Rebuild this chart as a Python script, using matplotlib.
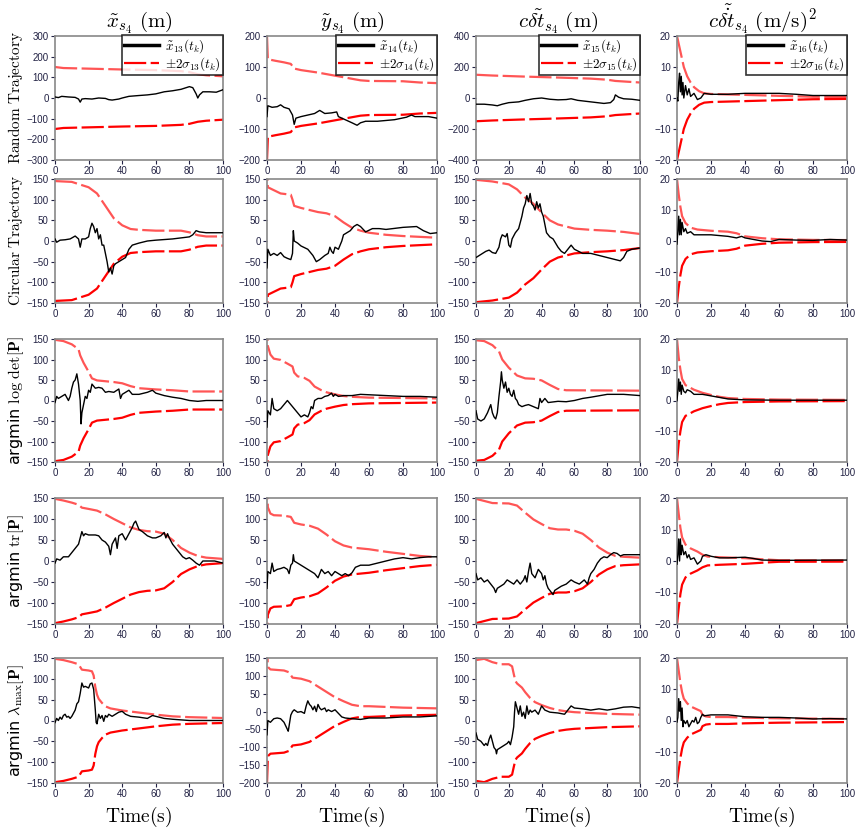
import numpy as np
import matplotlib.pyplot as plt

plt.rcParams['mathtext.fontset'] = 'cm'
plt.rcParams['font.family'] = 'DejaVu Sans'

# (time s, value) pairs; sigma bound is +2sigma, lower bound is its mirror

# row 1: random trajectory
rand_x_err = [(0, 5), (2, 2), (4, 8), (8, 5), (12, 3), (14, -5), (15, -20), (16, -5), (18, -3), (22, -5),
              (26, 0), (30, -2), (32, -8), (34, -10), (38, -5), (40, 0), (44, 8), (50, 12), (55, 15),
              (60, 20), (65, 30), (70, 35), (75, 42), (80, 55), (82, 50), (84, 20), (85, 0), (86, 15),
              (88, 30), (92, 30), (96, 28), (100, 40)]
rand_x_sig = [(0, 150), (5, 145), (20, 142), (40, 138), (60, 135), (75, 130), (80, 125), (85, 115),
              (90, 110), (100, 105)]
rand_y_err = [(0, -60), (0.5, -25), (3, -30), (6, -28), (8, -22), (10, -30), (13, -35), (15, -55),
              (16, -85), (17, -65), (20, -60), (24, -55), (28, -50), (31, -40), (34, -50), (38, -48),
              (41, -45), (42, -60), (46, -70), (50, -80), (53, -88), (55, -80), (58, -75), (65, -75),
              (75, -70), (82, -62), (85, -55), (87, -60), (95, -60), (100, -65)]
rand_y_sig = [(0, 200), (0.5, 125), (5, 120), (10, 115), (14, 110), (16, 95), (20, 90), (30, 82),
              (40, 72), (50, 62), (55, 57), (60, 55), (80, 54), (90, 50), (100, 48)]
rand_c_err = [(0, -40), (5, -40), (10, -45), (13, -50), (16, -40), (20, -30), (26, -25), (30, -15),
              (35, -5), (40, 0), (45, -8), (50, -12), (55, -10), (58, -5), (62, -15), (70, -25),
              (78, -35), (82, -30), (84, -10), (85, 20), (87, 5), (90, -5), (95, -8), (100, -15)]
rand_c_sig = [(0, 150), (10, 145), (30, 138), (50, 132), (70, 125), (80, 118), (85, 110), (100, 100)]
rand_d_err = [(0, 0), (0.5, -1), (1, 5), (1.5, 8), (2, 2), (2.5, 7), (3, 1), (3.5, 5), (4, 0), (5, 4),
              (6, 1), (7, 3), (8, 0.5), (10, 1.5), (12, -0.5), (14, 0), (16, 1.5), (20, 1.2), (30, 1.2),
              (40, 1.5), (60, 1.5), (70, 1.2), (80, 0.8), (100, 0.8)]
rand_d_sig = [(0, 20), (2, 15), (4, 10), (6, 7), (8, 5), (10, 3.5), (13, 2.2), (16, 1.5), (20, 1.3),
              (40, 1.0), (60, 0.7), (80, 0.4), (100, 0.3)]

# row 2: circular trajectory
circ_x_err = [(0, 5), (1, -3), (3, 2), (6, 3), (9, 5), (12, 12), (14, 5), (15, -15), (16, 5), (18, 5),
              (20, 10), (21, 30), (22, 43), (23, 35), (24, 20), (25, 30), (26, 5), (27, 15), (28, -10),
              (29, -10), (30, -30), (31, -50), (32, -75), (33, -65), (34, -80), (35, -60), (36, -55),
              (38, -50), (40, -45), (42, -40), (44, -20), (46, -10), (50, -5), (55, 0), (60, 2),
              (70, 5), (80, 10), (82, 15), (84, 25), (86, 22), (90, 20), (100, 20)]
circ_x_sig = [(0, 145), (10, 143), (20, 130), (25, 115), (30, 85), (35, 55), (40, 38), (45, 29),
              (50, 27), (60, 25), (75, 25), (80, 21), (85, 14), (90, 11), (100, 11)]
circ_y_err = [(0, -65), (0.5, -20), (2, -35), (4, -30), (6, -35), (8, -28), (10, -38), (12, -42),
              (14, -45), (15, -30), (15.5, 25), (16, 0), (18, -5), (20, -12), (24, -20), (27, -35),
              (29, -50), (31, -45), (34, -35), (36, -30), (37, -15), (38, -25), (39, -30), (40, -15),
              (42, -20), (44, 0), (45, 15), (47, 20), (49, 25), (51, 35), (53, 40), (55, 35), (58, 22),
              (62, 30), (66, 30), (70, 28), (80, 33), (88, 35), (92, 25), (96, 18), (100, 20)]
circ_y_sig = [(0, 200), (0.5, 130), (3, 125), (8, 115), (14, 112), (15, 100), (16, 85), (20, 80),
              (30, 70), (35, 67), (40, 60), (45, 45), (50, 32), (55, 25), (60, 20), (70, 15),
              (80, 12), (90, 10), (100, 8)]
circ_c_err = [(0, -40), (2, -35), (4, -30), (6, -25), (8, -22), (10, -28), (12, -30), (14, -15),
              (15, 5), (16, 15), (18, 10), (19, 18), (20, -10), (21, -15), (22, 5), (24, 20), (26, 30),
              (27, 45), (28, 60), (29, 80), (30, 90), (31, 110), (32, 95), (33, 115), (34, 90),
              (35, 85), (36, 75), (37, 95), (38, 80), (39, 90), (40, 70), (41, 60), (42, 40), (43, 20),
              (45, 10), (47, 5), (50, -15), (52, -25), (54, -30), (56, -20), (58, -10), (60, -20),
              (65, -30), (70, -30), (75, -35), (80, -40), (85, -45), (88, -48), (90, -40), (92, -25),
              (95, -20), (100, -17)]
circ_c_sig = [(0, 148), (10, 144), (20, 137), (25, 125), (30, 105), (35, 90), (40, 69), (45, 50),
              (50, 40), (60, 30), (70, 27), (80, 25), (90, 22), (100, 17)]
circ_d_err = [(0, -1), (0.5, 3), (1, 8), (1.5, 2), (2, 7), (2.5, 2), (3, 6), (4, 3), (5, 4), (6, 2.5),
              (8, 3), (10, 2), (15, 2), (20, 2), (30, 1.5), (35, 1), (38, 1.5), (40, 1), (45, 0.5),
              (50, 0), (55, -0.2), (60, 0.5), (70, 0.3), (80, 0.2), (90, 0.5), (100, 0.3)]
circ_d_sig = [(0, 20), (1, 15), (2, 11), (3, 8), (5, 5.8), (8, 4.3), (12, 3.7), (20, 3.3), (30, 3.0),
              (35, 2.5), (40, 1.5), (50, 0.9), (60, 0.55), (80, 0.35), (100, 0.3)]

# row 3: argmin log det[P]
ldet_x_err = [(0, -5), (1, 10), (2, 5), (4, 10), (6, 15), (8, 0), (9, 10), (10, 30), (11, 45),
              (12, 50), (13, 65), (14, 40), (15, 0), (15.5, -57), (16, -30), (17, -10), (18, 10),
              (19, 5), (20, 25), (21, 20), (22, 40), (24, 30), (26, 32), (28, 30), (30, 20), (32, 22),
              (35, 20), (38, 28), (39, 5), (40, 15), (42, 20), (44, 25), (46, 15), (50, 15), (55, 20),
              (58, 25), (60, 18), (65, 12), (70, 8), (75, 5), (80, 0), (85, -2), (90, 0), (100, 0)]
ldet_x_sig = [(0, 148), (5, 145), (10, 137), (14, 125), (15, 110), (17, 92), (20, 70), (22, 54),
              (25, 49), (30, 47), (35, 45), (40, 42), (45, 35), (50, 30), (60, 27), (70, 25),
              (80, 22), (100, 22)]
ldet_y_err = [(0, -65), (0.5, -25), (2, -35), (3, 5), (4, -20), (6, -25), (8, -20), (10, -10),
              (12, 0), (14, -10), (16, -20), (18, -30), (20, -40), (22, -35), (24, -40), (25, -30),
              (26, -15), (27, -20), (28, 0), (30, 5), (32, 5), (34, 10), (36, 12), (38, 18), (39, 10),
              (40, 15), (42, 10), (45, 12), (50, 12), (55, 15), (60, 14), (70, 12), (80, 10),
              (90, 10), (100, 8)]
ldet_y_sig = [(0, 200), (0.5, 133), (2, 112), (4, 102), (8, 99), (12, 90), (15, 83), (16, 68),
              (18, 59), (22, 55), (25, 48), (28, 34), (32, 25), (35, 20), (40, 15), (45, 11),
              (50, 9), (60, 7), (80, 6), (100, 5)]
ldet_c_err = [(0, -25), (1, -45), (3, -50), (5, -45), (7, -30), (8, -20), (9, -10), (10, -30),
              (11, -40), (12, -45), (13, -30), (14, 10), (15, 45), (15.5, 70), (16, 50), (17, 30),
              (18, 45), (19, 20), (20, 30), (21, 15), (22, 10), (23, 25), (24, 5), (25, 0), (26, -10),
              (28, -15), (30, -12), (32, -10), (35, -15), (38, -20), (39, 5), (40, -5), (42, 5),
              (44, -5), (48, -3), (50, -2), (55, -3), (60, 0), (65, 5), (70, 8), (80, 15), (90, 15),
              (100, 12)]
ldet_c_sig = [(0, 147), (5, 145), (10, 135), (14, 120), (16, 100), (20, 80), (25, 61), (30, 54),
              (35, 53), (40, 49), (45, 38), (50, 28), (55, 25), (100, 24)]
ldet_d_err = [(0, 0), (0.5, 3), (1, 7), (1.5, 3), (2, 6), (2.5, 2), (3, 5), (4, 3), (5, 2.5),
              (6, 3.5), (8, 3), (10, 2), (12, 2), (15, 2), (20, 1.5), (25, 1), (30, 0.5), (40, 0.2),
              (60, 0.1), (100, 0.1)]
ldet_d_sig = [(0, 20), (1, 14), (2, 10), (3, 7), (5, 5), (10, 3.5), (15, 2.5), (20, 1.8), (25, 1.2),
              (30, 0.8), (40, 0.5), (60, 0.3), (100, 0.2)]

# row 4: argmin tr[P]
tr_x_err = [(0, -5), (1, 5), (3, 2), (5, 10), (8, 10), (10, 20), (12, 30), (14, 40), (15, 55),
            (16, 70), (17, 60), (18, 65), (20, 62), (24, 62), (26, 60), (28, 50), (30, 45), (32, 35),
            (33, 15), (34, 40), (36, 55), (37, 30), (38, 60), (40, 65), (42, 50), (44, 65), (46, 80),
            (47, 90), (48, 95), (49, 85), (50, 75), (52, 70), (55, 60), (58, 55), (60, 55), (63, 60),
            (65, 68), (66, 55), (67, 65), (68, 55), (70, 40), (72, 30), (74, 20), (76, 10), (78, 5),
            (80, 8), (82, 2), (84, -5), (86, -10), (88, 0), (90, 0), (95, 0), (100, -5)]
tr_x_sig = [(0, 148), (5, 144), (10, 139), (14, 134), (16, 127), (20, 124), (25, 120), (30, 111),
            (35, 100), (40, 90), (45, 80), (50, 74), (55, 71), (60, 70), (65, 65), (70, 50),
            (75, 31), (80, 20), (85, 12), (90, 8), (100, 5)]
tr_y_err = [(0, -65), (0.5, -25), (2, -30), (3, -5), (4, -25), (6, -20), (8, -18), (10, -15),
            (12, -20), (13, -30), (14, -10), (15, -5), (15.5, 15), (16, 0), (18, -5), (20, -10),
            (22, -15), (24, -20), (26, -25), (28, -30), (30, -40), (32, -20), (34, -30), (36, -25),
            (38, -35), (40, -25), (42, -30), (44, -35), (46, -30), (48, -35), (50, -28), (52, -15),
            (55, -10), (60, -10), (65, -5), (70, 0), (75, 5), (80, 8), (85, 5), (90, 8), (95, 10),
            (100, 10)]
tr_y_sig = [(0, 200), (0.5, 128), (2, 113), (4, 109), (10, 108), (14, 105), (16, 91), (20, 87),
            (25, 84), (30, 77), (35, 63), (40, 47), (45, 37), (50, 32), (60, 28), (70, 22),
            (80, 17), (90, 12), (100, 9)]
tr_c_err = [(0, -30), (1, -45), (3, -40), (5, -50), (7, -45), (9, -55), (11, -65), (12, -75),
            (13, -65), (15, -60), (17, -55), (19, -45), (21, -50), (23, -55), (25, -45), (27, -55),
            (29, -45), (30, -35), (31, -50), (32, -25), (33, -5), (34, -30), (36, -40), (38, -20),
            (40, -30), (41, -45), (42, -35), (43, -55), (44, -65), (46, -75), (47, -80), (48, -70),
            (50, -65), (52, -60), (55, -55), (58, -45), (60, -50), (63, -55), (66, -45), (68, -55),
            (69, -40), (70, -30), (72, -20), (74, -5), (76, 5), (78, 10), (80, 8), (82, 15), (84, 20),
            (86, 18), (88, 12), (90, 15), (95, 15), (100, 15)]
tr_c_sig = [(0, 148), (5, 143), (10, 138), (20, 137), (25, 132), (30, 115), (35, 99), (40, 88),
            (45, 78), (50, 75), (55, 75), (60, 72), (65, 65), (70, 50), (75, 32), (80, 20),
            (85, 12), (90, 10), (100, 8)]
tr_d_err = [(0, -1), (0.5, 2), (1, 7), (1.5, 0), (2, 7), (2.5, 2), (3, 5), (4, 2), (5, 3), (6, 1),
            (7, 2), (8, 0.5), (10, 1), (12, -1), (14, 0), (15, 1.5), (17, 2), (20, 1.5), (25, 1),
            (30, 1), (40, 1.2), (45, 0.8), (50, 0.3), (60, 0.2), (100, 0.3)]
tr_d_sig = [(0, 20), (1, 15), (2, 10.5), (3, 7.5), (5, 5.2), (8, 4), (12, 3), (15, 2), (18, 1.4),
            (25, 1.2), (40, 0.9), (50, 0.55), (60, 0.25), (100, 0.2)]

# row 5: argmin lambda_max[P]
lmax_x_err = [(0, -5), (1, 5), (2, 0), (3, 8), (4, 3), (5, 12), (6, 15), (7, 8), (8, 10), (9, 5),
              (10, 10), (12, 25), (13, 40), (14, 45), (15, 65), (16, 90), (17, 80), (18, 82),
              (19, 80), (20, 78), (21, 88), (22, 90), (23, 75), (24, 25), (24.5, -5), (25, -8),
              (26, 15), (27, 5), (28, 12), (29, -2), (30, 12), (31, 8), (32, 15), (34, 10), (36, 15),
              (38, 20), (40, 22), (42, 15), (45, 10), (50, 8), (55, 5), (58, 12), (60, 10), (65, 5),
              (70, 3), (80, 0), (90, 0), (100, 0)]
lmax_x_sig = [(0, 148), (5, 145), (10, 140), (14, 135), (16, 122), (20, 120), (22, 118), (23, 108),
              (24, 80), (25, 62), (26, 52), (28, 42), (30, 34), (33, 29), (40, 24), (50, 19),
              (60, 14), (70, 10), (80, 8), (100, 6)]
lmax_y_err = [(0, -65), (0.5, -25), (2, -30), (4, -20), (6, -18), (8, -20), (10, -30), (11, -40),
              (12, -50), (12.5, -55), (13, -40), (14, -10), (15, 0), (16, 5), (18, -2), (20, 0),
              (22, -5), (23, 15), (24, 30), (25, 20), (26, 15), (27, 5), (28, 15), (29, 0), (30, 20),
              (31, 10), (32, 5), (34, 10), (35, 0), (36, 5), (38, 0), (40, 5), (42, -5), (44, -15),
              (46, -18), (50, -20), (55, -22), (60, -18), (70, -18), (80, -15), (90, -15), (100, -12)]
lmax_y_sig = [(0, 200), (0.5, 125), (2, 118), (10, 115), (13, 110), (15, 95), (20, 92), (25, 85),
              (30, 70), (35, 55), (40, 40), (45, 29), (50, 19), (55, 15), (60, 15), (80, 11),
              (100, 9)]
lmax_c_err = [(0, -30), (1, -45), (3, -50), (4, -55), (5, -60), (6, -55), (7, -60), (8, -45),
              (9, -35), (10, -50), (11, -65), (12, -70), (12.5, -80), (13, -70), (15, -65), (17, -60),
              (19, -55), (20, -50), (21, -58), (22, -40), (23, -15), (23.5, 20), (24, 45), (25, 30),
              (26, 15), (27, 35), (28, 10), (29, 20), (30, 5), (31, 35), (32, 15), (33, 25), (34, 20),
              (36, 25), (38, 15), (40, 35), (42, 25), (45, 20), (50, 18), (54, 15), (56, 25),
              (58, 35), (60, 30), (65, 28), (70, 25), (75, 28), (80, 25), (85, 28), (90, 32),
              (95, 33), (100, 30)]
lmax_c_sig = [(0, 145), (5, 148), (10, 140), (15, 135), (20, 135), (22, 130), (23, 112), (24, 95),
              (25, 89), (28, 79), (30, 68), (33, 54), (36, 44), (40, 37), (45, 30), (50, 25),
              (55, 22), (60, 20), (70, 18), (80, 16), (100, 14)]
lmax_d_err = [(0, -0.5), (0.5, 1), (1, 7), (1.5, 3), (2, 6), (2.5, 0), (3, 4), (3.5, -2), (4, 0),
              (5, -1), (6, 0), (7, -2), (8, -1), (9, 0), (10, -0.5), (11, 1), (12, -1), (13, -0.5),
              (14, 1), (15, 2), (16, 1.5), (20, 1.8), (30, 1.8), (40, 1.2), (50, 1), (60, 1),
              (70, 0.8), (80, 0.5), (90, 0.6), (100, 0.5)]
lmax_d_sig = [(0, 20), (1, 16), (2, 12), (3, 9), (4, 7), (6, 5.5), (8, 4.5), (10, 4), (12, 3.5),
              (14, 3), (15, 1.8), (17, 1.3), (20, 1.1), (30, 1.1), (40, 0.9), (60, 0.7), (80, 0.6),
              (100, 0.5)]

panel_err = [[rand_x_err, rand_y_err, rand_c_err, rand_d_err],
             [circ_x_err, circ_y_err, circ_c_err, circ_d_err],
             [ldet_x_err, ldet_y_err, ldet_c_err, ldet_d_err],
             [tr_x_err, tr_y_err, tr_c_err, tr_d_err],
             [lmax_x_err, lmax_y_err, lmax_c_err, lmax_d_err]]
panel_sig = [[rand_x_sig, rand_y_sig, rand_c_sig, rand_d_sig],
             [circ_x_sig, circ_y_sig, circ_c_sig, circ_d_sig],
             [ldet_x_sig, ldet_y_sig, ldet_c_sig, ldet_d_sig],
             [tr_x_sig, tr_y_sig, tr_c_sig, tr_d_sig],
             [lmax_x_sig, lmax_y_sig, lmax_c_sig, lmax_d_sig]]

# y axis ticks for each panel
panel_yticks = [[[-300, -200, -100, 0, 100, 200, 300], [-200, -100, 0, 100, 200],
                 [-400, -200, 0, 200, 400], [-20, -10, 0, 10, 20]],
                [[-150, -100, -50, 0, 50, 100, 150]] * 3 + [[-20, -10, 0, 10, 20]],
                [[-150, -100, -50, 0, 50, 100, 150]] * 3 + [[-20, -10, 0, 10, 20]],
                [[-150, -100, -50, 0, 50, 100, 150]] * 3 + [[-20, -10, 0, 10, 20]],
                [[-150, -100, -50, 0, 50, 100, 150], [-200, -150, -100, -50, 0, 50, 100, 150],
                 [-150, -100, -50, 0, 50, 100, 150], [-20, -10, 0, 10, 20]]]

col_titles = [r'$\tilde{x}_{s_4}\ (\mathrm{m})$', r'$\tilde{y}_{s_4}\ (\mathrm{m})$',
              r'$c\tilde{\delta t}_{s_4}\ (\mathrm{m})$',
              r'$c\tilde{\dot{\delta t}}_{s_4}\ (\mathrm{m/s})^2$']
state_idx = [13, 14, 15, 16]
row_labels = [r'$\mathrm{Random\ Trajectory}$', r'$\mathrm{Circular\ Trajectory}$',
              r'argmin $\log\,\det[\mathbf{P}]$', r'argmin $\mathrm{tr}[\mathbf{P}]$',
              r'argmin $\lambda_{\max}[\mathbf{P}]$']
row_label_size = [11, 11, 11.5, 11.5, 11.5]

W, H = 857, 832
fig = plt.figure(figsize=(W / 100, H / 100), dpi=100)

col_l = [55, 267, 476, 677]
col_r = [223, 437, 640, 847]
row_t = [36, 179, 339, 498, 658]
row_b = [160, 303, 462, 624, 783]

up_col = '#ff5555'
lo_col = '#ff0000'

for i in range(5):
    for j in range(4):
        ax = fig.add_axes([col_l[j] / W, 1 - row_b[i] / H,
                           (col_r[j] - col_l[j]) / W, (row_b[i] - row_t[i]) / H])
        e = np.array(panel_err[i][j], dtype=float)
        s = np.array(panel_sig[i][j], dtype=float)
        ax.plot(e[:, 0], e[:, 1], color='black', lw=1.0, label=r'$\tilde{x}_{%d}(t_k)$' % state_idx[j],
                zorder=3)
        ax.plot(s[:, 0], s[:, 1], color=up_col, lw=1.6, dashes=(10, 2), zorder=2)
        ax.plot(s[:, 0], -s[:, 1], color=lo_col, lw=1.6, dashes=(10, 2), zorder=2,
                label=r'$\pm2\sigma_{%d}(t_k)$' % state_idx[j])
        yt = panel_yticks[i][j]
        ax.set_ylim(yt[0], yt[-1])
        ax.set_yticks(yt)
        ax.set_xlim(0, 100)
        ax.set_xticks([0, 20, 40, 60, 80, 100])
        ax.tick_params(labelsize=7, length=3, width=0.8, colors='#222244', pad=1.5)
        for lab in ax.get_xticklabels() + ax.get_yticklabels():
            lab.set_family('Liberation Sans')
        for sp in ax.spines.values():
            sp.set_color('#888888')
            sp.set_linewidth(1.2)
        if i == 0:
            leg = ax.legend(loc='upper right', bbox_to_anchor=(1.0, 1.01), fontsize=9.5,
                            frameon=True, fancybox=False, borderpad=0.15, labelspacing=0.05,
                            handlelength=2.6, handletextpad=0.5, borderaxespad=0)
            leg.get_frame().set_edgecolor('black')
            leg.get_frame().set_linewidth(1.2)
            leg.get_lines()[0].set_linewidth(2.5)
            ax.set_title(col_titles[j], fontsize=15, pad=4)
        if i == 4:
            ax.set_xlabel(r'$\mathrm{Time(s)}$', fontsize=14, labelpad=4)
    # row label at fixed position at the left edge
    fig.text(16 / W, 1 - (row_t[i] + row_b[i]) / 2 / H, row_labels[i], rotation=90,
             ha='center', va='center', fontsize=row_label_size[i])

fig.savefig('out.png', dpi=100)
